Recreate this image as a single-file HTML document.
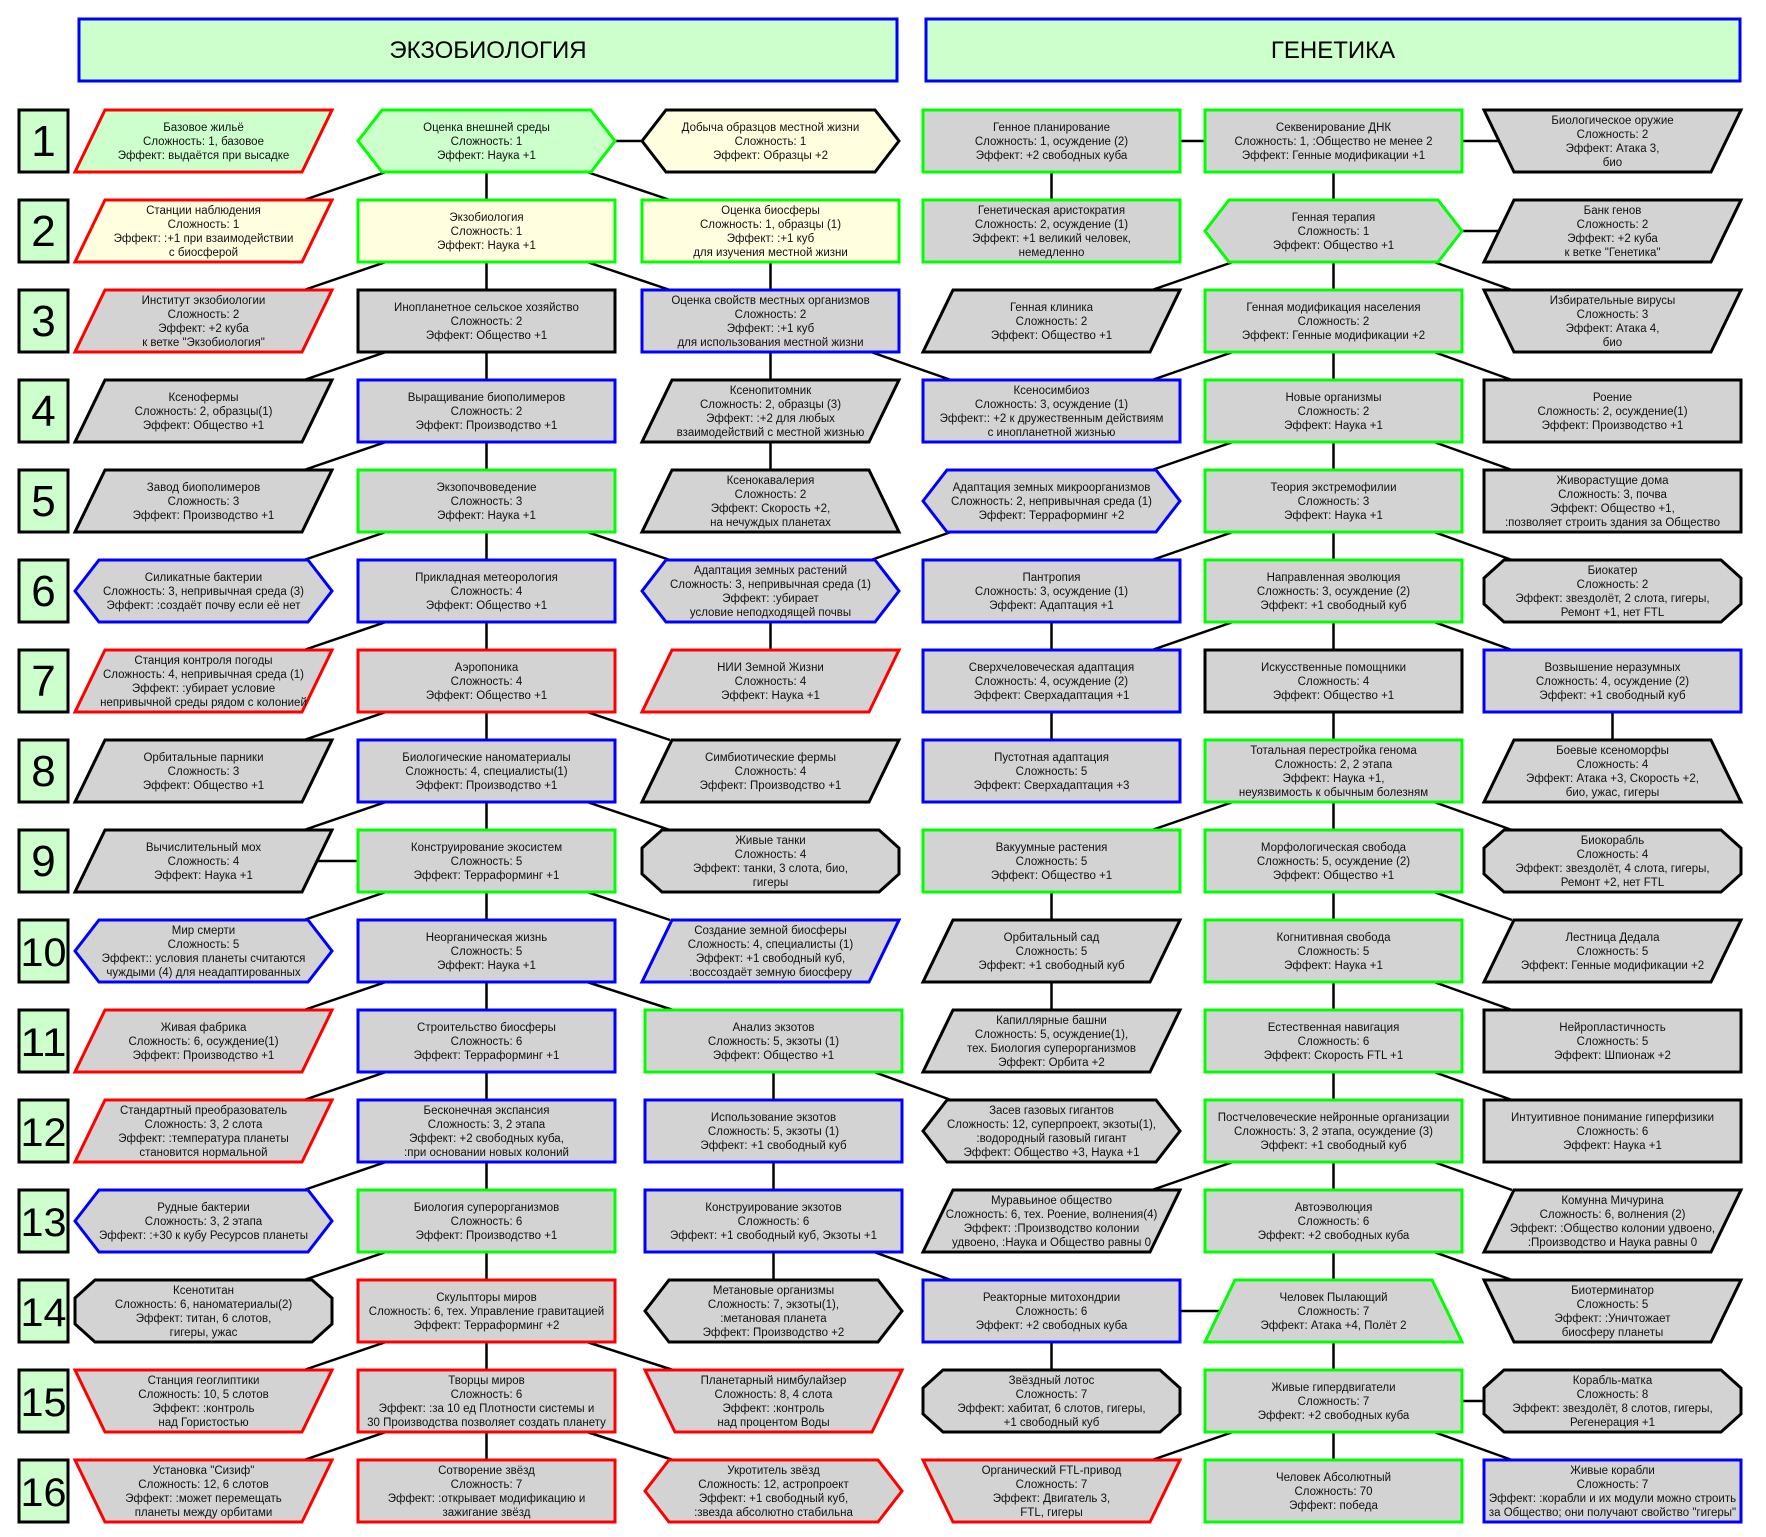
<!DOCTYPE html>
<html><head><meta charset="utf-8">
<style>
html,body{margin:0;padding:0;background:#fff;}
svg{display:block;}
text{font-family:"Liberation Sans",Arial,sans-serif;}
</style></head>
<body>
<svg id="s" width="1766" height="1537" xmlns="http://www.w3.org/2000/svg">
<rect x="0" y="0" width="1766" height="1537" fill="#fff"/>
<g id="lines" stroke="#000" stroke-width="2.5"></g>
<rect x="79" y="19" width="818" height="62" fill="#ccffcc" stroke="#0000ff" stroke-width="3"/>
<text x="488" y="58" font-size="24" text-anchor="middle">ЭКЗОБИОЛОГИЯ</text>
<rect x="926" y="19" width="814" height="62" fill="#ccffcc" stroke="#0000ff" stroke-width="3"/>
<text x="1333" y="58" font-size="24" text-anchor="middle">ГЕНЕТИКА</text>
<g id="nodes"></g>
</svg>
<script>
var NS="http://www.w3.org/2000/svg";
var COLX={A:75,B:358,C:642,c:645,D:923,E:1205,F:1484};
var W=257,H=62;
function rowY(r){return 110+90.0*(r-1);}
var FILL={g:"#ccffcc",y:"#ffffe0",s:"#d3d3d3"};
var STR={r:"#ff0000",G:"#00ff00",b:"#0000ff",k:"#000000"};
var N=[
[1,"A","P","g","r",["Базовое жильё","Сложность: 1, базовое","Эффект: выдаётся при высадке"]],
[1,"B","H","g","G",["Оценка внешней среды","Сложность: 1","Эффект: Наука +1"]],
[1,"C","H","y","k",["Добыча образцов местной жизни","Сложность: 1","Эффект: Образцы +2"]],
[1,"D","R","s","G",["Генное планирование","Сложность: 1, осуждение (2)","Эффект: +2 свободных куба"]],
[1,"E","R","s","G",["Секвенирование ДНК","Сложность: 1, :Общество не менее 2","Эффект: Генные модификации +1"]],
[1,"F","TD","s","k",["Биологическое оружие","Сложность: 2","Эффект: Атака 3,","био"]],
[2,"A","P","y","r",["Станции наблюдения","Сложность: 1","Эффект: :+1 при взаимодействии","с биосферой"]],
[2,"B","R","y","G",["Экзобиология","Сложность: 1","Эффект: Наука +1"]],
[2,"C","R","y","G",["Оценка биосферы","Сложность: 1, образцы (1)","Эффект: :+1 куб","для изучения местной жизни"]],
[2,"D","R","s","G",["Генетическая аристократия","Сложность: 2, осуждение (1)","Эффект: +1 великий человек,","немедленно"]],
[2,"E","H","s","G",["Генная терапия","Сложность: 1","Эффект: Общество +1"]],
[2,"F","P","s","k",["Банк генов","Сложность: 2","Эффект: +2 куба","к ветке \"Генетика\""]],
[3,"A","P","s","r",["Институт экзобиологии","Сложность: 2","Эффект: +2 куба","к ветке \"Экзобиология\""]],
[3,"B","R","s","k",["Инопланетное сельское хозяйство","Сложность: 2","Эффект: Общество +1"]],
[3,"C","R","s","b",["Оценка свойств местных организмов","Сложность: 2","Эффект: :+1 куб","для использования местной жизни"]],
[3,"D","P","s","k",["Генная клиника","Сложность: 2","Эффект: Общество +1"]],
[3,"E","R","s","G",["Генная модификация населения","Сложность: 2","Эффект: Генные модификации +2"]],
[3,"F","TD","s","k",["Избирательные вирусы","Сложность: 3","Эффект: Атака 4,","био"]],
[4,"A","P","s","k",["Ксенофермы","Сложность: 2, образцы(1)","Эффект: Общество +1"]],
[4,"B","R","s","b",["Выращивание биополимеров","Сложность: 2","Эффект: Производство +1"]],
[4,"C","P","s","k",["Ксенопитомник","Сложность: 2, образцы (3)","Эффект: :+2 для любых","взаимодействий с местной жизнью"]],
[4,"D","R","s","b",["Ксеносимбиоз","Сложность: 3, осуждение (1)","Эффект:: +2 к дружественным действиям","с инопланетной жизнью"]],
[4,"E","R","s","G",["Новые организмы","Сложность: 2","Эффект: Наука +1"]],
[4,"F","R","s","k",["Роение","Сложность: 2, осуждение(1)","Эффект: Производство +1"]],
[5,"A","P","s","k",["Завод биополимеров","Сложность: 3","Эффект: Производство +1"]],
[5,"B","R","s","G",["Экзопочвоведение","Сложность: 3","Эффект: Наука +1"]],
[5,"C","TU","s","k",["Ксенокавалерия","Сложность: 2","Эффект: Скорость +2,","на нечуждых планетах"]],
[5,"D","H","s","b",["Адаптация земных микроорганизмов","Сложность: 2, непривычная среда (1)","Эффект: Терраформинг +2"]],
[5,"E","R","s","G",["Теория экстремофилии","Сложность: 3","Эффект: Наука +1"]],
[5,"F","R","s","k",["Живорастущие дома","Сложность: 3, почва","Эффект: Общество +1,",":позволяет строить здания за Общество"]],
[6,"A","H","s","b",["Силикатные бактерии","Сложность: 3, непривычная среда (3)","Эффект: :создаёт почву если её нет"]],
[6,"B","R","s","b",["Прикладная метеорология","Сложность: 4","Эффект: Общество +1"]],
[6,"C","H","s","b",["Адаптация земных растений","Сложность: 3, непривычная среда (1)","Эффект: :убирает","условие неподходящей почвы"]],
[6,"D","R","s","b",["Пантропия","Сложность: 3, осуждение (1)","Эффект: Адаптация +1"]],
[6,"E","R","s","G",["Направленная эволюция","Сложность: 3, осуждение (2)","Эффект: +1 свободный куб"]],
[6,"F","O","s","k",["Биокатер","Сложность: 2","Эффект: звездолёт, 2 слота, гигеры,","Ремонт +1, нет FTL"]],
[7,"A","P","s","r",["Станция контроля погоды","Сложность: 4, непривычная среда (1)","Эффект: :убирает условие","непривычной среды рядом с колонией"]],
[7,"B","R","s","r",["Аэропоника","Сложность: 4","Эффект: Общество +1"]],
[7,"C","P","s","r",["НИИ Земной Жизни","Сложность: 4","Эффект: Наука +1"]],
[7,"D","R","s","b",["Сверхчеловеческая адаптация","Сложность: 4, осуждение (2)","Эффект: Сверхадаптация +1"]],
[7,"E","R","s","k",["Искусственные помощники","Сложность: 4","Эффект: Общество +1"]],
[7,"F","R","s","b",["Возвышение неразумных","Сложность: 4, осуждение (2)","Эффект: +1 свободный куб"]],
[8,"A","P","s","k",["Орбитальные парники","Сложность: 3","Эффект: Общество +1"]],
[8,"B","R","s","b",["Биологические наноматериалы","Сложность: 4, специалисты(1)","Эффект: Производство +1"]],
[8,"C","P","s","k",["Симбиотические фермы","Сложность: 4","Эффект: Производство +1"]],
[8,"D","R","s","b",["Пустотная адаптация","Сложность: 5","Эффект: Сверхадаптация +3"]],
[8,"E","R","s","G",["Тотальная перестройка генома","Сложность: 2, 2 этапа","Эффект: Наука +1,","неуязвимость к обычным болезням"]],
[8,"F","TU","s","k",["Боевые ксеноморфы","Сложность: 4","Эффект: Атака +3, Скорость +2,","био, ужас, гигеры"]],
[9,"A","P","s","k",["Вычислительный мох","Сложность: 4","Эффект: Наука +1"]],
[9,"B","R","s","G",["Конструирование экосистем","Сложность: 5","Эффект: Терраформинг +1"]],
[9,"C","O","s","k",["Живые танки","Сложность: 4","Эффект: танки, 3 слота, био,","гигеры"]],
[9,"D","R","s","G",["Вакуумные растения","Сложность: 5","Эффект: Общество +1"]],
[9,"E","R","s","G",["Морфологическая свобода","Сложность: 5, осуждение (2)","Эффект: Общество +1"]],
[9,"F","O","s","k",["Биокорабль","Сложность: 4","Эффект: звездолёт, 4 слота, гигеры,","Ремонт +2, нет FTL"]],
[10,"A","H","s","b",["Мир смерти","Сложность: 5","Эффект:: условия планеты считаются","чуждыми (4) для неадаптированных"]],
[10,"B","R","s","b",["Неорганическая жизнь","Сложность: 5","Эффект: Наука +1"]],
[10,"C","P","s","b",["Создание земной биосферы","Сложность: 4, специалисты (1)","Эффект: +1 свободный куб,",":воссоздаёт земную биосферу"]],
[10,"D","P","s","k",["Орбитальный сад","Сложность: 5","Эффект: +1 свободный куб"]],
[10,"E","R","s","G",["Когнитивная свобода","Сложность: 5","Эффект: Наука +1"]],
[10,"F","P","s","k",["Лестница Дедала","Сложность: 5","Эффект: Генные модификации +2"]],
[11,"A","P","s","r",["Живая фабрика","Сложность: 6, осуждение(1)","Эффект: Производство +1"]],
[11,"B","R","s","b",["Строительство биосферы","Сложность: 6","Эффект: Терраформинг +1"]],
[11,"c","R","s","G",["Анализ экзотов","Сложность: 5, экзоты (1)","Эффект: Общество +1"]],
[11,"D","P","s","k",["Капиллярные башни","Сложность: 5, осуждение(1),","тех. Биология суперорганизмов","Эффект: Орбита +2"]],
[11,"E","R","s","G",["Естественная навигация","Сложность: 6","Эффект: Скорость FTL +1"]],
[11,"F","R","s","k",["Нейропластичность","Сложность: 5","Эффект: Шпионаж +2"]],
[12,"A","P","s","r",["Стандартный преобразователь","Сложность: 3, 2 слота","Эффект: :температура планеты","становится нормальной"]],
[12,"B","R","s","b",["Бесконечная экспансия","Сложность: 3, 2 этапа","Эффект: +2 свободных куба,",":при основании новых колоний"]],
[12,"c","R","s","b",["Использование экзотов","Сложность: 5, экзоты (1)","Эффект: +1 свободный куб"]],
[12,"D","H","s","k",["Засев газовых гигантов","Сложность: 12, суперпроект, экзоты(1),",":водородный газовый гигант","Эффект: Общество +3, Наука +1"]],
[12,"E","R","s","G",["Постчеловеческие нейронные организации","Сложность: 3, 2 этапа, осуждение (3)","Эффект: +1 свободный куб"]],
[12,"F","R","s","k",["Интуитивное понимание гиперфизики","Сложность: 6","Эффект: Наука +1"]],
[13,"A","H","s","b",["Рудные бактерии","Сложность: 3, 2 этапа","Эффект: :+30 к кубу Ресурсов планеты"]],
[13,"B","R","s","G",["Биология суперорганизмов","Сложность: 6","Эффект: Производство +1"]],
[13,"c","R","s","b",["Конструирование экзотов","Сложность: 6","Эффект: +1 свободный куб, Экзоты +1"]],
[13,"D","P","s","k",["Муравьиное общество","Сложность: 6, тех. Роение, волнения(4)","Эффект: :Производство колонии","удвоено, :Наука и Общество равны 0"]],
[13,"E","R","s","G",["Автоэволюция","Сложность: 6","Эффект: +2 свободных куба"]],
[13,"F","P","s","k",["Комунна Мичурина","Сложность: 6, волнения (2)","Эффект: :Общество колонии удвоено,",":Производство и Наука равны 0"]],
[14,"A","O","s","k",["Ксенотитан","Сложность: 6, наноматериалы(2)","Эффект: титан, 6 слотов,","гигеры, ужас"]],
[14,"B","R","s","r",["Скульпторы миров","Сложность: 6, тех. Управление гравитацией","Эффект: Терраформинг +2"]],
[14,"c","H","s","k",["Метановые организмы","Сложность: 7, экзоты(1),",":метановая планета","Эффект: Производство +2"]],
[14,"D","R","s","b",["Реакторные митохондрии","Сложность: 6","Эффект: +2 свободных куба"]],
[14,"E","TU","s","G",["Человек Пылающий","Сложность: 7","Эффект: Атака +4, Полёт 2"]],
[14,"F","TD","s","k",["Биотерминатор","Сложность: 5","Эффект: :Уничтожает","биосферу планеты"]],
[15,"A","TD","s","r",["Станция геоглиптики","Сложность: 10, 5 слотов","Эффект: :контроль","над Гористостью"]],
[15,"B","R","s","r",["Творцы миров","Сложность: 6","Эффект: :за 10 ед Плотности системы и","30 Производства позволяет создать планету"]],
[15,"c","TD","s","r",["Планетарный нимбулайзер","Сложность: 8, 4 слота","Эффект: :контроль","над процентом Воды"]],
[15,"D","O","s","k",["Звёздный лотос","Сложность: 7","Эффект: хабитат, 6 слотов, гигеры,","+1 свободный куб"]],
[15,"E","R","s","G",["Живые гипердвигатели","Сложность: 7","Эффект: +2 свободных куба"]],
[15,"F","O","s","k",["Корабль-матка","Сложность: 8","Эффект: звездолёт, 8 слотов, гигеры,","Регенерация +1"]],
[16,"A","TD","s","r",["Установка \"Сизиф\"","Сложность: 12, 6 слотов","Эффект: :может перемещать","планеты между орбитами"]],
[16,"B","R","s","r",["Сотворение звёзд","Сложность: 7","Эффект: :открывает модификацию и","зажигание звёзд"]],
[16,"c","H","s","r",["Укротитель звёзд","Сложность: 12, астропроект","Эффект: +1 свободный куб,",":звезда абсолютно стабильна"]],
[16,"D","TD","s","r",["Органический FTL-привод","Сложность: 7","Эффект: Двигатель 3,","FTL, гигеры"]],
[16,"E","R","s","G",["Человек Абсолютный","Сложность: 70","Эффект: победа"]],
[16,"F","R","s","b",["Живые корабли","Сложность: 7","Эффект: :корабли и их модули можно строить","за Общество; они получают свойство \"гигеры\""]]
];
function pts(t,x,y,w,h){
 var d=30,i=24,c=20,v=18,P;
 if(t=="R")P=[[x,y],[x+w,y],[x+w,y+h],[x,y+h]];
 else if(t=="P")P=[[x+d,y],[x+w,y],[x+w-d,y+h],[x,y+h]];
 else if(t=="H")P=[[x,y+h/2],[x+i,y],[x+w-i,y],[x+w,y+h/2],[x+w-i,y+h],[x+i,y+h]];
 else if(t=="TD")P=[[x,y],[x+w,y],[x+w-d,y+h],[x+d,y+h]];
 else if(t=="TU")P=[[x+d,y],[x+w-d,y],[x+w,y+h],[x,y+h]];
 else P=[[x,y+v],[x+c,y],[x+w-c,y],[x+w,y+v],[x+w,y+h-v],[x+w-c,y+h],[x+c,y+h],[x,y+h-v]];
 return P.map(function(p){return p[0].toFixed(1)+","+p[1].toFixed(1)}).join(" ");
}
var G=document.getElementById("nodes");
function el(n,a,p){var e=document.createElementNS(NS,n);for(var k in a)e.setAttribute(k,a[k]);(p||G).appendChild(e);return e;}
for(var r=1;r<=16;r++){
 var y=rowY(r);
 el("rect",{x:19,y:y,width:49,height:H,fill:"#ccffcc",stroke:"#000","stroke-width":3});
 var t=el("text",{x:43.5,y:y+H/2+15,"font-size":r>9?40:44,"text-anchor":"middle"});
 t.textContent=r;
 if(r>9){t.setAttribute("textLength",46);t.setAttribute("lengthAdjust","spacingAndGlyphs");}
}
N.forEach(function(n){
 var x=COLX[n[1]],y=rowY(n[0]);
 el("polygon",{points:pts(n[2],x,y,W,H),fill:FILL[n[3]],stroke:STR[n[4]],"stroke-width":3,"stroke-linejoin":"miter"});
 var L=n[5],cx=x+W/2,cy=y+H/2;
 L.forEach(function(s,k){
  var t=el("text",{x:cx,y:(cy-(L.length-1)*7+4+k*14).toFixed(1),"font-size":11.5,"text-anchor":"middle",fill:"#111"});
  t.textContent=s;
  try{var tl=t.getComputedTextLength();if(tl>W-4){t.setAttribute("textLength",W-4);t.setAttribute("lengthAdjust","spacingAndGlyphs");}}catch(e){}
 });
});
var LG=document.getElementById("lines");
function ln(x1,y1,x2,y2){el("line",{x1:x1,y1:y1,x2:x2,y2:y2},LG);}
function bot(r){return rowY(r)+H;}
function V(c,r){var x=COLX[c]+W/2;ln(x,bot(r),x,rowY(r+1));}
function Hz(c1,c2,r,a,b){var y=rowY(r)+H/2;ln(COLX[c1]+W-(a||0),y,COLX[c2]+(b||0),y);}
function DL(cs,r,ct){ln(COLX[cs]+28,bot(r),COLX[ct]+W-28,rowY(r+1));}
function DR(cs,r,ct){ln(COLX[cs]+W-28,bot(r),COLX[ct]+28,rowY(r+1));}
Hz("B","C",1);Hz("A","B",9,15,0);
for(var r=1;r<=15;r++){V("B",r);DL("B",r,"A");}
[1,2,5,7,8,9,10,14,15].forEach(function(r){DR("B",r,r>=10?"c":"C");});
[2,3,4,6].forEach(function(r){V("C",r);});
[11,12,13].forEach(function(r){V("c",r);});
DR("C",3,"D");DR("c",11,"D");DR("c",13,"D");
DL("D",5,"C");
Hz("D","E",1);Hz("E","F",1,0,15);Hz("E","F",2,0,15);Hz("D","E",14,0,15);Hz("E","F",15);
V("D",1);
for(var r=1;r<=15;r++){V("E",r);}
[2,3,4,5,6,8,12,15].forEach(function(r){DL("E",r,"D");});
[2,3,4,5,6,8,9,10,11,12,13,15].forEach(function(r){DR("E",r,"F");});
[6,7,9,10,14].forEach(function(r){V("D",r);});
V("F",7);
</script>
</body></html>
